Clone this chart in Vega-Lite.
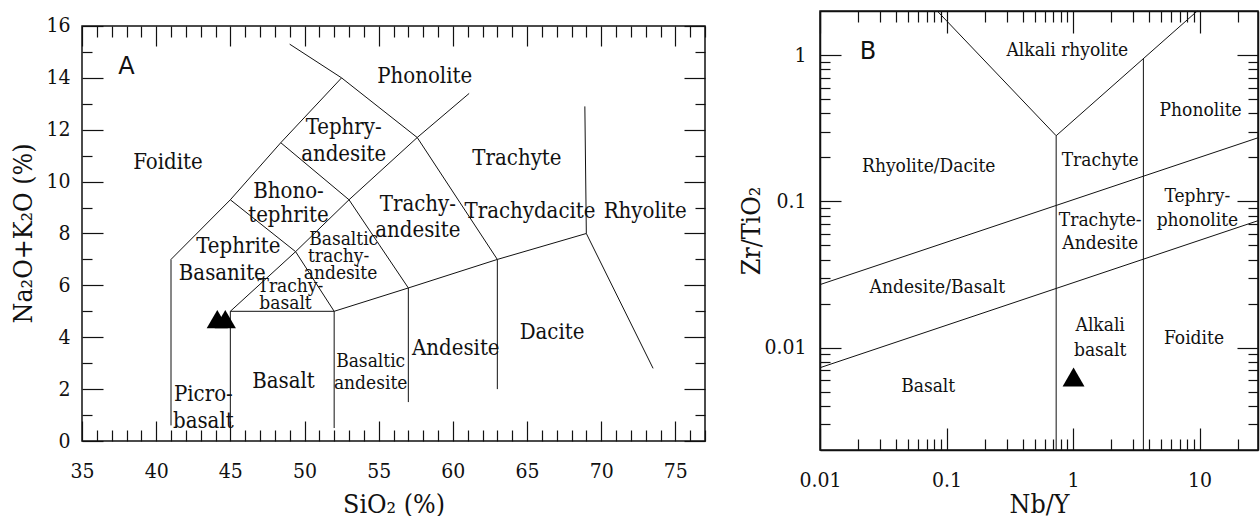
{
  "$schema": "https://vega.github.io/schema/vega-lite/v6.json",
  "padding": {"left": 10, "top": 8, "right": 0, "bottom": 0},
  "spacing": 31,
  "datasets": {
    "tasFrame": [{"x": 35, "x2": 77, "y": 0, "y2": 16}],
    "tasLines": [
      {"seg": "a", "i": 1, "x": 41, "y": 0.6}, {"seg": "a", "i": 2, "x": 41, "y": 7}, {"seg": "a", "i": 3, "x": 45, "y": 9.3}, {"seg": "a", "i": 4, "x": 48.4, "y": 11.5}, {"seg": "a", "i": 5, "x": 52.5, "y": 14},
      {"seg": "b", "i": 1, "x": 49, "y": 15.3}, {"seg": "b", "i": 2, "x": 52.5, "y": 14}, {"seg": "b", "i": 3, "x": 57.6, "y": 11.7}, {"seg": "b", "i": 4, "x": 63, "y": 7},
      {"seg": "c", "i": 1, "x": 45, "y": 0.5}, {"seg": "c", "i": 2, "x": 45, "y": 5}, {"seg": "c", "i": 3, "x": 52, "y": 5}, {"seg": "c", "i": 4, "x": 52, "y": 0.5},
      {"seg": "d", "i": 1, "x": 45, "y": 5}, {"seg": "d", "i": 2, "x": 49.4, "y": 7.3}, {"seg": "d", "i": 3, "x": 53, "y": 9.3}, {"seg": "d", "i": 4, "x": 57.6, "y": 11.7}, {"seg": "d", "i": 5, "x": 61.1, "y": 13.4},
      {"seg": "e", "i": 1, "x": 45, "y": 9.3}, {"seg": "e", "i": 2, "x": 49.4, "y": 7.3}, {"seg": "e", "i": 3, "x": 52, "y": 5},
      {"seg": "f", "i": 1, "x": 48.4, "y": 11.5}, {"seg": "f", "i": 2, "x": 53, "y": 9.3}, {"seg": "f", "i": 3, "x": 57, "y": 5.9}, {"seg": "f", "i": 4, "x": 57, "y": 1.5},
      {"seg": "g", "i": 1, "x": 52, "y": 5}, {"seg": "g", "i": 2, "x": 57, "y": 5.9}, {"seg": "g", "i": 3, "x": 63, "y": 7}, {"seg": "g", "i": 4, "x": 69, "y": 8}, {"seg": "g", "i": 5, "x": 68.9, "y": 12.9},
      {"seg": "h", "i": 1, "x": 63, "y": 7}, {"seg": "h", "i": 2, "x": 63, "y": 2},
      {"seg": "k", "i": 1, "x": 69, "y": 8}, {"seg": "k", "i": 2, "x": 73.5, "y": 2.8}
    ],
    "tasLabels": [
      {"g": "panel", "t": "A", "x": 38.0, "y": 14.42},
      {"g": "main", "t": "Phonolite", "x": 58.1, "y": 14.08},
      {"g": "main", "t": "Foidite", "x": 40.8, "y": 10.77},
      {"g": "main", "t": "Tephry-", "x": 52.64, "y": 12.12},
      {"g": "main", "t": "andesite", "x": 52.64, "y": 11.08},
      {"g": "main", "t": "Bhono-", "x": 48.92, "y": 9.62},
      {"g": "main", "t": "tephrite", "x": 48.92, "y": 8.73},
      {"g": "main", "t": "Trachyte", "x": 64.32, "y": 10.92},
      {"g": "main", "t": "Trachy-", "x": 57.64, "y": 9.15},
      {"g": "main", "t": "andesite", "x": 57.64, "y": 8.12},
      {"g": "main", "t": "Trachydacite", "x": 65.2, "y": 8.85},
      {"g": "main", "t": "Rhyolite", "x": 72.97, "y": 8.85},
      {"g": "main", "t": "Tephrite", "x": 45.54, "y": 7.5},
      {"g": "main", "t": "Basanite", "x": 44.46, "y": 6.46},
      {"g": "small", "t": "Basaltic", "x": 52.64, "y": 7.77},
      {"g": "small", "t": "trachy-", "x": 52.3, "y": 7.12},
      {"g": "small", "t": "andesite", "x": 52.43, "y": 6.46},
      {"g": "small", "t": "Trachy-", "x": 49.05, "y": 5.96},
      {"g": "small", "t": "basalt", "x": 48.72, "y": 5.31},
      {"g": "main", "t": "Basalt", "x": 48.58, "y": 2.31},
      {"g": "main", "t": "Picro-", "x": 43.18, "y": 1.81},
      {"g": "main", "t": "basalt", "x": 43.18, "y": 0.77},
      {"g": "small", "t": "Basaltic", "x": 54.46, "y": 3.08},
      {"g": "small", "t": "andesite", "x": 54.46, "y": 2.23},
      {"g": "main", "t": "Andesite", "x": 60.2, "y": 3.58},
      {"g": "main", "t": "Dacite", "x": 66.69, "y": 4.19}
    ],
    "tasPts": [
      {"x": 44.12, "y": 4.7}, {"x": 44.66, "y": 4.7}
    ],
    "wfLines": [
      {"seg": "v", "i": 1, "x": 0.0845, "y": 2}, {"seg": "v", "i": 2, "x": 0.736, "y": 0.281}, {"seg": "v", "i": 3, "x": 9.6, "y": 2},
      {"seg": "p", "i": 1, "x": 0.736, "y": 0.281}, {"seg": "p", "i": 2, "x": 0.736, "y": 0.002},
      {"seg": "q", "i": 1, "x": 3.6, "y": 0.94}, {"seg": "q", "i": 2, "x": 3.6, "y": 0.002},
      {"seg": "u", "i": 1, "x": 0.01, "y": 0.027}, {"seg": "u", "i": 2, "x": 29, "y": 0.272},
      {"seg": "w", "i": 1, "x": 0.01, "y": 0.0073}, {"seg": "w", "i": 2, "x": 29, "y": 0.0738}
    ],
    "wfLabels": [
      {"g": "panel", "t": "B", "x": 0.0239, "y": 1.05},
      {"g": "main", "t": "Alkali rhyolite", "x": 0.902, "y": 1.08},
      {"g": "main", "t": "Phonolite", "x": 10.2, "y": 0.421},
      {"g": "main", "t": "Rhyolite/Dacite", "x": 0.0724, "y": 0.174},
      {"g": "main", "t": "Trachyte", "x": 1.64, "y": 0.191},
      {"g": "main", "t": "Tephry-", "x": 9.62, "y": 0.108},
      {"g": "main", "t": "phonolite", "x": 9.62, "y": 0.0742},
      {"g": "main", "t": "Trachyte-", "x": 1.64, "y": 0.0742},
      {"g": "main", "t": "Andesite", "x": 1.64, "y": 0.0519},
      {"g": "main", "t": "Andesite/Basalt", "x": 0.0846, "y": 0.026},
      {"g": "main", "t": "Alkali", "x": 1.64, "y": 0.0142},
      {"g": "main", "t": "basalt", "x": 1.64, "y": 0.0097},
      {"g": "main", "t": "Foidite", "x": 9.05, "y": 0.0117},
      {"g": "main", "t": "Basalt", "x": 0.0716, "y": 0.00545}
    ],
    "wfPts": [
      {"x": 1.01, "y": 0.0063}
    ]
  },
  "hconcat": [
    {
      "width": 623,
      "height": 430,
      "view": {"stroke": null},
      "layer": [
        {
          "data": {"name": "tasFrame"},
          "mark": {"type": "rect", "fill": null, "stroke": "#111", "strokeWidth": 1.5},
          "encoding": {
            "x": {"field": "x", "type": "quantitative", "scale": {"domain": [35, 77], "nice": false, "zero": false},
              "axis": {"orient": "bottom", "domain": false, "values": [35,36,37,38,39,40,41,42,43,44,45,46,47,48,49,50,51,52,53,54,55,56,57,58,59,60,61,62,63,64,65,66,67,68,69,70,71,72,73,74,75,76,77],
                "tickSize": {"condition": {"test": "datum.value % 5 === 0", "value": -20}, "value": -11},
                "labelExpr": "datum.value % 5 === 0 ? datum.label : ''", "labelPadding": 39, "title": "SiO₂ (%)", "titleY": 71, "titleBaseline": "alphabetic"}},
            "x2": {"field": "x2"},
            "y": {"field": "y", "type": "quantitative", "scale": {"domain": [0, 16.578], "nice": false, "zero": false},
              "axis": {"orient": "left", "domain": false, "values": [0,1,2,3,4,5,6,7,8,9,10,11,12,13,14,15,16],
                "tickSize": {"condition": {"test": "datum.value % 2 === 0", "value": -21}, "value": -10},
                "labelExpr": "datum.value % 2 === 0 ? datum.label : ''", "labelPadding": 33, "title": "Na₂O+K₂O (%)", "titleX": -59, "titleY": 222, "titleBaseline": "middle"}},
            "y2": {"field": "y2"}
          }
        },
        {
          "data": {"name": "tasLines"},
          "mark": {"type": "line", "color": "#111", "strokeWidth": 1},
          "encoding": {
            "x": {"field": "x", "type": "quantitative", "scale": {"domain": [35, 77], "nice": false, "zero": false},
              "axis": {"orient": "top", "offset": -15, "domain": false, "values": [35,36,37,38,39,40,41,42,43,44,45,46,47,48,49,50,51,52,53,54,55,56,57,58,59,60,61,62,63,64,65,66,67,68,69,70,71,72,73,74,75,76,77],
                "tickSize": {"condition": {"test": "datum.value % 5 === 0", "value": -20}, "value": -11},
                "labels": false, "title": null}},
            "y": {"field": "y", "type": "quantitative", "scale": {"domain": [0, 16.578], "nice": false, "zero": false},
              "axis": {"orient": "right", "domain": false, "values": [0,1,2,3,4,5,6,7,8,9,10,11,12,13,14,15,16],
                "tickSize": {"condition": {"test": "datum.value % 2 === 0", "value": -21}, "value": -10},
                "labels": false, "title": null}},
            "detail": {"field": "seg"},
            "order": {"field": "i", "type": "quantitative"}
          }
        },
        {
          "data": {"name": "tasLabels"},
          "transform": [{"filter": "datum.g === 'main'"}],
          "mark": {"type": "text", "font": "DejaVu Serif Condensed, DejaVu Serif", "fontSize": 22, "color": "#111", "align": "center", "baseline": "middle"},
          "encoding": {
            "x": {"field": "x", "type": "quantitative", "scale": {"domain": [35, 77], "nice": false, "zero": false}, "axis": null},
            "y": {"field": "y", "type": "quantitative", "scale": {"domain": [0, 16.578], "nice": false, "zero": false}, "axis": null},
            "text": {"field": "t", "type": "nominal"}
          }
        },
        {
          "data": {"name": "tasLabels"},
          "transform": [{"filter": "datum.g === 'small'"}],
          "mark": {"type": "text", "font": "DejaVu Serif Condensed, DejaVu Serif", "fontSize": 19, "color": "#111", "align": "center", "baseline": "middle"},
          "encoding": {
            "x": {"field": "x", "type": "quantitative", "scale": {"domain": [35, 77], "nice": false, "zero": false}, "axis": null},
            "y": {"field": "y", "type": "quantitative", "scale": {"domain": [0, 16.578], "nice": false, "zero": false}, "axis": null},
            "text": {"field": "t", "type": "nominal"}
          }
        },
        {
          "data": {"name": "tasLabels"},
          "transform": [{"filter": "datum.g === 'panel'"}],
          "mark": {"type": "text", "font": "DejaVu Sans", "fontSize": 24, "color": "#111", "align": "center", "baseline": "middle"},
          "encoding": {
            "x": {"field": "x", "type": "quantitative", "scale": {"domain": [35, 77], "nice": false, "zero": false}, "axis": null},
            "y": {"field": "y", "type": "quantitative", "scale": {"domain": [0, 16.578], "nice": false, "zero": false}, "axis": null},
            "text": {"field": "t", "type": "nominal"}
          }
        },
        {
          "data": {"name": "tasPts"},
          "mark": {"type": "point", "shape": "triangle-up", "filled": true, "color": "#000", "opacity": 1, "size": 450},
          "encoding": {
            "x": {"field": "x", "type": "quantitative", "scale": {"domain": [35, 77], "nice": false, "zero": false}, "axis": null},
            "y": {"field": "y", "type": "quantitative", "scale": {"domain": [0, 16.578], "nice": false, "zero": false}, "axis": null}
          }
        }
      ],
      "resolve": {"axis": {"x": "independent", "y": "independent"}}
    },
    {
      "width": 438,
      "height": 439,
      "layer": [
        {
          "data": {"name": "wfLines"},
          "mark": {"type": "line", "color": "#111", "strokeWidth": 1},
          "encoding": {
            "x": {"field": "x", "type": "quantitative", "scale": {"type": "log", "domain": [0.01, 29], "nice": false},
              "axis": {"orient": "bottom", "values": [0.01,0.02,0.03,0.04,0.05,0.06,0.07,0.08,0.09,0.1,0.2,0.3,0.4,0.5,0.6,0.7,0.8,0.9,1,2,3,4,5,6,7,8,9,10,20],
                "tickSize": {"condition": {"test": "abs(log(datum.value)/LN10 - round(log(datum.value)/LN10)) < 0.001", "value": -22}, "value": -11},
                "labelExpr": "abs(log(datum.value)/LN10 - round(log(datum.value)/LN10)) < 0.001 ? format(datum.value, '~g') : ''", "labelPadding": 41, "title": "Nb/Y", "titleY": 62.7, "titleBaseline": "alphabetic"}},
            "y": {"field": "y", "type": "quantitative", "scale": {"type": "log", "domain": [0.002, 2], "nice": false},
              "axis": {"orient": "left", "values": [0.003,0.004,0.005,0.006,0.007,0.008,0.009,0.01,0.02,0.03,0.04,0.05,0.06,0.07,0.08,0.09,0.1,0.2,0.3,0.4,0.5,0.6,0.7,0.8,0.9,1],
                "tickSize": {"condition": {"test": "abs(log(datum.value)/LN10 - round(log(datum.value)/LN10)) < 0.001", "value": -21}, "value": -10},
                "labelExpr": "abs(log(datum.value)/LN10 - round(log(datum.value)/LN10)) < 0.001 ? format(datum.value, '~g') : ''", "labelPadding": 35, "title": "Zr/TiO₂", "titleX": -68.5, "titleY": 219.5, "titleBaseline": "middle"}},
            "detail": {"field": "seg"},
            "order": {"field": "i", "type": "quantitative"}
          }
        },
        {
          "data": {"name": "wfLabels"},
          "transform": [{"filter": "datum.g === 'main'"}],
          "mark": {"type": "text", "font": "DejaVu Serif Condensed, DejaVu Serif", "fontSize": 19, "color": "#111", "align": "center", "baseline": "middle"},
          "encoding": {
            "x": {"field": "x", "type": "quantitative", "scale": {"type": "log", "domain": [0.01, 29], "nice": false},
              "axis": {"orient": "top", "values": [0.01,0.02,0.03,0.04,0.05,0.06,0.07,0.08,0.09,0.1,0.2,0.3,0.4,0.5,0.6,0.7,0.8,0.9,1,2,3,4,5,6,7,8,9,10,20],
                "tickSize": {"condition": {"test": "abs(log(datum.value)/LN10 - round(log(datum.value)/LN10)) < 0.001", "value": -22}, "value": -11},
                "labels": false, "title": null}},
            "y": {"field": "y", "type": "quantitative", "scale": {"type": "log", "domain": [0.002, 2], "nice": false},
              "axis": {"orient": "right", "values": [0.003,0.004,0.005,0.006,0.007,0.008,0.009,0.01,0.02,0.03,0.04,0.05,0.06,0.07,0.08,0.09,0.1,0.2,0.3,0.4,0.5,0.6,0.7,0.8,0.9,1],
                "tickSize": {"condition": {"test": "abs(log(datum.value)/LN10 - round(log(datum.value)/LN10)) < 0.001", "value": -21}, "value": -10},
                "labels": false, "title": null}},
            "text": {"field": "t", "type": "nominal"}
          }
        },
        {
          "data": {"name": "wfLabels"},
          "transform": [{"filter": "datum.g === 'panel'"}],
          "mark": {"type": "text", "font": "DejaVu Sans", "fontSize": 24, "color": "#111", "align": "center", "baseline": "middle"},
          "encoding": {
            "x": {"field": "x", "type": "quantitative", "scale": {"type": "log", "domain": [0.01, 29], "nice": false}, "axis": null},
            "y": {"field": "y", "type": "quantitative", "scale": {"type": "log", "domain": [0.002, 2], "nice": false}, "axis": null},
            "text": {"field": "t", "type": "nominal"}
          }
        },
        {
          "data": {"name": "wfPts"},
          "mark": {"type": "point", "shape": "triangle-up", "filled": true, "color": "#000", "opacity": 1, "size": 480},
          "encoding": {
            "x": {"field": "x", "type": "quantitative", "scale": {"type": "log", "domain": [0.01, 29], "nice": false}, "axis": null},
            "y": {"field": "y", "type": "quantitative", "scale": {"type": "log", "domain": [0.002, 2], "nice": false}, "axis": null}
          }
        }
      ],
      "resolve": {"axis": {"x": "independent", "y": "independent"}}
    }
  ],
  "config": {
    "view": {"stroke": "#111", "strokeWidth": 1.5},
    "axis": {
      "domainColor": "#111", "domainWidth": 1.5, "tickColor": "#111", "tickWidth": 1.2, "grid": false,
      "labelFlush": false, "labelOverlap": false,
      "labelFont": "DejaVu Serif Condensed, DejaVu Serif", "labelFontSize": 21, "labelColor": "#111",
      "titleFont": "DejaVu Serif Condensed, DejaVu Serif", "titleFontSize": 26.5, "titleColor": "#111", "titleFontWeight": "normal"
    }
  }
}
